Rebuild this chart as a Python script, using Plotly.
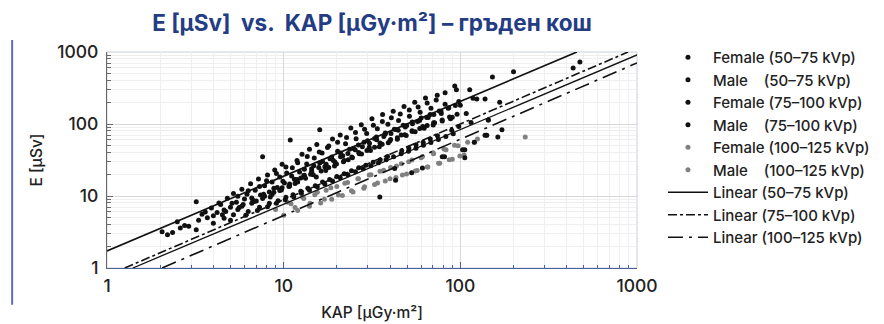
import plotly.graph_objects as go

# ---------------- data ----------------
# each list holds (KAP [µGy·m²], E [µSv]) pairs
female_50_75 = [(2.05,3.2),(2.35,3.1),(2.6,3.6),(2.75,3.9),(3.2,8.3),(3.2,3.4),(3.45,5.6),(3.7,5.0),(3.9,6.8),(4.2,5.9),
    (4.4,7.6),(4.6,6.4),(4.8,9.3),(5.0,7.0),(5.2,10.8),(5.4,8.2),(5.6,6.9),(5.8,12.4),(6.0,9.1),(6.2,10.6),(6.5,14.8),
    (6.7,8.7),(6.9,12.0),(7.2,17.2),(7.4,10.3),(7.6,35.0),(7.8,13.9),(8.1,19.6),(8.3,11.4),(8.6,15.7),(8.9,23.0),
    (9.2,13.1),(9.5,18.4),(9.8,27.5),(10.1,15.2),(10.4,20.8),(10.9,60.0),(11.2,24.6),(11.5,17.1),(11.9,31.0),
    (12.3,21.5),(12.7,38.0),(13.0,19.2),(13.5,27.8),(14.0,44.5),(14.4,23.9),(14.9,33.6),(15.4,52.0),(16.0,83.0),
    (16.0,28.8),(16.5,39.5),(17.1,25.4),(17.7,47.0),(18.3,33.0),(18.9,62.0),(19.5,29.6),(20.2,41.8),(20.9,70.5),
    (21.6,36.2),(22.4,53.0),(23.2,31.8),(24.0,88.0),(24.8,45.5),(25.7,62.5),(26.6,40.2),(27.5,98.0),(28.5,55.8),
    (29.5,74.0),(30.5,47.6),(31.6,118.0),(32.7,63.0),(33.9,86.0),(35.1,54.4),(36.3,135.0),(37.6,72.5),(38.9,99.0),
    (40.3,61.0),(41.7,150.0),(43.2,84.0),(44.7,112.0),(46.3,70.2),(48.0,175.0),(49.7,95.0),(51.5,128.0),(53.3,80.5),
    (55.2,200.0),(57.2,108.0),(59.2,146.0),(61.3,92.0),(63.5,230.0),(65.8,123.0),(68.2,165.0),(70.6,104.0),
    (74.0,250.0),(78.0,140.0),(82.0,188.0),(88.0,118.0),(93.0,338.0),(98.0,205.0)]

male_50_75 = [(2.2,2.9),(2.5,4.4),(2.9,3.8),(3.3,4.6),(3.6,6.0),(4.0,5.3),(4.3,8.0),(4.7,6.1),(5.1,7.9),(5.5,9.9),
    (5.9,7.6),(6.3,11.8),(6.6,9.4),(7.0,8.5),(7.3,13.6),(7.7,10.6),(8.0,16.3),(8.4,9.7),(8.8,12.8),(9.1,20.5),
    (9.5,11.9),(9.9,16.0),(10.3,25.2),(10.7,13.6),(11.1,18.9),(11.6,14.9),(12.0,29.0),(12.5,17.8),(13.1,23.6),
    (13.6,35.5),(14.2,20.1),(14.8,26.4),(15.3,18.3),(15.9,41.0),(16.6,30.2),(17.3,22.6),(18.0,49.5),(18.7,34.8),
    (19.4,26.0),(20.2,56.0),(21.0,39.4),(21.8,29.8),(22.7,65.0),(23.6,44.6),(24.5,34.1),(25.5,76.5),(26.5,51.0),
    (27.6,38.2),(28.7,84.5),(29.8,58.5),(31.0,43.0),(32.2,96.0),(33.5,66.0),(34.8,48.5),(36.2,108.0),(37.6,75.0),
    (39.1,55.0),(40.7,122.0),(42.3,84.5),(44.0,61.5),(45.7,138.0),(47.5,96.0),(49.4,69.0),(51.4,156.0),(53.4,107.0),
    (55.5,78.0),(57.7,172.0),(60.0,121.0),(62.4,87.0),(64.9,195.0),(67.5,136.0),(70.2,97.0),(73.0,215.0),
    (76.0,152.0),(79.0,110.0),(82.0,272.0),(86.0,168.0),(90.0,124.0),(95.0,300.0),(100.0,182.0),(108.0,140.0),
    (118.0,228.0),(435.0,600.0),(475.0,725.0)]

female_75_100 = [(4.0,4.2),(4.6,4.9),(5.2,5.5),(5.8,7.2),(6.3,6.1),(6.8,8.4),(7.3,7.0),(7.8,9.9),(8.3,7.9),(8.8,11.3),
    (9.3,8.6),(9.8,13.0),(10.3,9.6),(10.8,14.7),(11.3,10.4),(11.9,16.9),(12.5,11.6),(13.1,19.4),(13.7,12.8),
    (14.4,22.0),(15.1,13.9),(15.8,24.8),(16.6,15.6),(17.4,27.5),(18.2,17.0),(19.1,31.0),(20.0,18.6),(21.0,35.2),
    (22.0,20.4),(23.1,39.0),(24.2,22.5),(25.4,43.8),(26.6,24.6),(27.9,48.5),(29.2,26.8),(30.6,54.0),(32.1,29.5),
    (33.6,60.5),(35.2,32.0),(36.9,67.0),(38.7,35.5),(40.5,74.0),(42.5,24.0),(44.5,82.0),(46.6,42.5),(48.8,91.0),
    (51.1,46.5),(53.6,101.0),(56.1,51.5),(58.8,112.0),(61.6,56.0),(64.5,123.0),(67.6,62.0),(70.8,136.0),(74.2,68.5),
    (77.7,150.0),(81.4,35.0),(85.3,165.0),(89.4,82.0),(93.7,180.0),(98.0,92.0),(106.0,44.0),(115.0,105.0),
    (124.0,223.0),(138.0,70.0),(144.0,114.0)]

male_75_100 = [(4.5,5.5),(5.0,4.6),(5.5,6.5),(6.1,5.4),(6.6,7.9),(7.1,6.3),(7.6,9.2),(8.1,7.1),(8.6,10.5),(9.1,7.9),
    (9.7,12.1),(10.2,8.9),(10.8,13.8),(11.4,9.7),(12.0,15.6),(12.6,10.9),(13.3,17.6),(14.0,12.0),(14.7,19.8),
    (15.5,13.4),(16.3,22.2),(17.1,14.7),(18.0,24.9),(18.9,16.2),(19.9,27.8),(20.9,17.9),(22.0,31.2),(23.1,19.7),
    (24.3,34.8),(25.5,21.8),(26.8,38.6),(28.2,23.9),(29.6,42.8),(31.1,26.4),(32.7,47.5),(34.4,29.0),(35.0,9.7),
    (36.1,52.5),(38.0,31.8),(39.9,58.0),(41.9,35.0),(43.0,16.6),(44.0,64.5),(46.2,38.5),(48.5,71.0),(50.9,42.0),
    (53.0,21.0),(53.4,78.5),(56.1,46.0),(58.9,86.5),(61.0,24.5),(61.8,50.5),(64.9,95.0),(68.1,55.5),(71.5,104.0),
    (75.1,61.0),(78.9,114.0),(79.0,35.0),(82.8,67.0),(86.9,125.0),(91.2,73.5),(95.8,137.0),(103.0,44.0),
    (106.0,34.0),(113.0,300.0),(120.0,56.0),(138.0,223.0),(141.0,70.0),(144.0,114.0),(152.0,450.0),(163.0,66.0),
    (167.0,200.0),(172.0,83.0),(200.0,530.0)]

female_100_125 = [(9.0,6.5),(10.0,5.4),(11.0,7.8),(12.0,6.3),(13.0,9.2),(14.0,7.2),(15.0,10.4),(16.2,8.0),(17.4,12.0),
    (18.7,9.0),(20.0,13.6),(21.5,10.2),(23.0,15.4),(24.7,11.4),(26.5,17.4),(28.4,12.8),(30.5,19.6),(32.7,14.4),
    (35.1,22.0),(37.6,16.2),(40.3,24.8),(43.2,18.0),(46.3,28.0),(49.6,20.2),(53.2,31.5),(57.0,22.6),(61.1,35.5),
    (65.5,25.2),(70.2,40.0),(75.3,28.5),(80.7,45.0),(86.5,32.0),(92.7,50.5),(99.4,36.0),(110.0,56.0),(125.0,62.0),
    (233.0,66.0)]

male_100_125 = [(10.5,8.2),(11.6,6.9),(12.8,9.7),(14.1,7.9),(15.5,11.3),(17.0,9.0),(18.5,13.0),(20.4,10.3),
    (22.2,15.0),(24.2,11.8),(26.3,17.3),(28.7,13.4),(31.2,19.8),(34.0,15.2),(36.8,22.8),(40.0,17.3),(43.5,26.0),
    (47.0,19.6),(51.0,29.8),(55.5,22.2),(60.0,34.0),(65.0,25.2),(70.5,38.5),(76.5,28.5),(83.0,44.0),(90.0,32.5),
    (97.0,50.0),(105.0,37.0),(120.0,56.0),(141.0,70.0)]

# trend lines: end points (KAP, E)
lin_50_75 = [(1.0, 1.72), (457.0, 1000.0)]
lin_75_100 = [(1.26, 1.0), (890.0, 1000.0)]
lin_75_100_b = [(1.40, 1.0), (1000.0, 910.0)]
lin_100_125 = [(2.05, 1.0), (1000.0, 705.0)]

scatter_names = ["Female (50–75 kVp)", "Male    (50–75 kVp)", "Female (75–100 kVp)",
                 "Male    (75–100 kVp)", "Female (100–125 kVp)", "Male    (100–125 kVp)"]
line_names = ["Linear (50–75 kVp)", "Linear (75–100 kVp)", "Linear (100–125 kVp)"]
axis_ticks = [1, 10, 100, 1000]
minor_ticks = [m * d for d in (1, 10, 100) for m in range(2, 10)]


def xs(pairs):
    return [p[0] for p in pairs]


def ys(pairs):
    return [p[1] for p in pairs]


# ---------------- figure ----------------
FONT = "Inter, Liberation Sans, Arial"
fig = go.Figure()
series = [(female_50_75, "#111111"), (male_50_75, "#111111"), (female_75_100, "#111111"),
          (male_75_100, "#111111"), (female_100_125, "#808080"), (male_100_125, "#808080")]
# grey series drawn first (underneath); legend order kept with legendrank
draw_order = [4, 5, 0, 1, 2, 3]
for i in draw_order:
    pairs, col = series[i]
    fig.add_trace(go.Scatter(x=xs(pairs), y=ys(pairs), mode="markers", name=scatter_names[i],
                             legendgroup=f"g{i}", legendrank=100 + i,
                             marker=dict(size=5, color=col, line=dict(width=0))))

fig.add_trace(go.Scatter(x=xs(lin_50_75), y=ys(lin_50_75), mode="lines", name=line_names[0], legendgroup="l1",
                         legendrank=200, line=dict(color="#111111", width=1.7, dash="solid")))
fig.add_trace(go.Scatter(x=xs(lin_75_100), y=ys(lin_75_100), mode="lines", name=line_names[1], legendgroup="l2",
                         legendrank=201, line=dict(color="#111111", width=1.6, dash="dashdot")))
fig.add_trace(go.Scatter(x=xs(lin_75_100_b), y=ys(lin_75_100_b), mode="lines", showlegend=False, legendgroup="l2",
                         line=dict(color="#111111", width=1.3, dash="solid")))
fig.add_trace(go.Scatter(x=xs(lin_100_125), y=ys(lin_100_125), mode="lines", name=line_names[2], legendgroup="l3",
                         legendrank=202, line=dict(color="#111111", width=1.6, dash="longdashdot")))

fig.update_layout(
    width=884, height=324,
    margin=dict(l=107, r=247, t=52, b=56, autoexpand=False),
    paper_bgcolor="white", plot_bgcolor="white",
    font=dict(family=FONT, color="#222222", size=15),
    title=dict(text="E [µSv]  vs.  KAP [µGy·m²] – гръден кош", x=0.4208, xanchor="center",
               xref="container", yref="container", y=0.928, yanchor="middle",
               font=dict(size=22.5, color="#233c84", family=FONT, weight="bold")),
    legend=dict(x=1.049, y=1.051, xanchor="left", yanchor="top", font=dict(size=15, color="#222222", weight=500),
                tracegroupgap=0, itemwidth=40, bgcolor="rgba(0,0,0,0)", maxheight=320),
    showlegend=True,
)

fig.update_xaxes(type="log", range=[0, 3], automargin=False, showline=True, linecolor="#4a6396", linewidth=1.2,
                 ticks="inside", ticklen=6, tickcolor="#4a6396", tickvals=axis_ticks,
                 ticktext=[str(v) for v in axis_ticks], tickfont=dict(size=17.5, color="#222222", weight=500),
                 ticklabelstandoff=2,
                 showgrid=True, gridcolor="#d9d9d9", gridwidth=1, zeroline=False,
                 minor=dict(tickmode="array", tickvals=minor_ticks, ticks="inside", ticklen=3, tickcolor="#4a6396",
                            showgrid=True, gridcolor="#efefef"),
                 title=dict(text="KAP [µGy·m²]", font=dict(size=15.5, color="#222222", weight=500), standoff=12))
fig.update_yaxes(type="log", range=[0, 3], automargin=False, showline=True, linecolor="#6a6a6a", linewidth=1.2,
                 ticks="inside", ticklen=6, tickcolor="#6a6a6a", tickvals=axis_ticks,
                 ticktext=[str(v) for v in axis_ticks], tickfont=dict(size=17.5, color="#222222", weight=500),
                 ticklabelstandoff=4,
                 showgrid=True, gridcolor="#d9d9d9", gridwidth=1, zeroline=False,
                 minor=dict(tickmode="array", tickvals=minor_ticks, ticks="inside", ticklen=4, tickcolor="#6a6a6a",
                            showgrid=True, gridcolor="#efefef"),
                 title=dict(text="E [µSv]", font=dict(size=15.5, color="#222222", weight=500), standoff=10))

# light frame for the plot area and the slide's blue decoration line at the left
fig.add_shape(type="rect", xref="paper", yref="paper", x0=0, y0=0, x1=1, y1=1,
              line=dict(color="#c8cfdc", width=1), layer="below")
fig.add_shape(type="line", xref="paper", yref="paper", x0=-0.179, x1=-0.179, y0=-0.17, y1=1.056,
              line=dict(color="#5b6fc4", width=2))

# remove the page's default body margin so the figure sits at the window's top-left corner
fig.write_html("out.html", config={"displayModeBar": False},
               post_script="document.body.style.margin='0px';")
